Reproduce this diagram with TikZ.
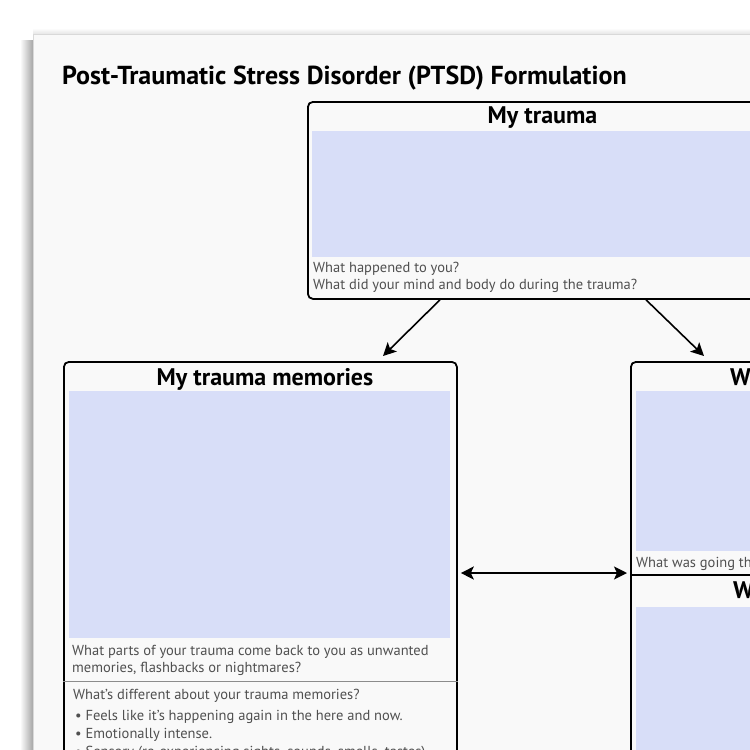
\documentclass[tikz,border=0pt]{standalone}
\usepackage{fontspec}
\setmainfont{PT Sans}
\usetikzlibrary{arrows.meta,calc}
\definecolor{pagebg}{HTML}{F9F9F9}
\definecolor{fillblue}{HTML}{D8DEF8}
\definecolor{hint}{HTML}{505050}
\begin{document}
\begin{tikzpicture}[x=1pt,y=-1pt,
  box/.style={draw=black, line width=1.8pt, rounded corners=5pt, inner sep=0pt, anchor=north west},
  bluearea/.style={fill=fillblue, draw=none, inner sep=0pt, anchor=north west},
  boxtitle/.style={font=\bfseries\fontsize{24}{27}\selectfont, inner sep=0pt},
  hinttext/.style={font=\fontsize{14.5}{17}\selectfont, text=hint, anchor=base west, inner sep=0pt},
  arr/.style={line width=1.6pt, -{Stealth[length=13pt,width=13pt,inset=3pt]}},
  dblarr/.style={line width=1.6pt, {Stealth[length=13pt,width=13pt,inset=3pt]}-{Stealth[length=13pt,width=13pt,inset=3pt]}},
]
\useasboundingbox (0,0) rectangle (750,750);
\clip (0,0) rectangle (750,750);
\fill[white] (0,0) rectangle (750,750);
% page shadow
\shade[left color=white, right color=black!35] (20,40) rectangle (33,760);
\shade[top color=white, bottom color=black!10] (33,28) rectangle (760,34);
% page
\fill[pagebg] (33,34) rectangle (760,760);
\draw[black!15, line width=0.6pt] (33,760) -- (33,34) -- (760,34);
% title
\node[anchor=base west, inner sep=0pt, font=\bfseries\fontsize{26}{30}\selectfont] (title) at (62,84) {Post-Traumatic Stress Disorder (PTSD) Formulation};
% blue areas
\node[bluearea, minimum width=461pt, minimum height=126pt] (b1blue) at (312,131) {};
\node[bluearea, minimum width=381pt, minimum height=247pt] (b2blue) at (69,391) {};
\node[bluearea, minimum width=400pt, minimum height=160pt] (b3blue) at (636,391) {};
\node[bluearea, minimum width=400pt, minimum height=200pt] (b4blue) at (636,607) {};
% boxes
\node[box, minimum width=471pt, minimum height=197pt] (b1) at (307,101) {};
\node[box, minimum width=393pt, minimum height=500pt] (b2) at (63,361) {};
\node[box, minimum width=420pt, minimum height=500pt] (b3) at (630,361) {};
\draw[line width=1.8pt] (b3.north west |- 0,575) -- ++(420,0);
\draw[black!45, line width=0.7pt] (b2.north west |- 0,681) -- (b2.north east |- 0,681);
% box titles
\node[boxtitle, anchor=base] (t1) at (542.5,123) {My trauma};
\node[boxtitle, anchor=base] (t2) at (265,385) {My trauma memories};
\node[boxtitle, anchor=base west] (t3) at (730,385) {What my trauma means};
\node[boxtitle, anchor=base west] (t4) at (733,598) {What I do to cope};
% hint texts
\node[hinttext] (h1a) at (313,272) {What happened to you?};
\node[hinttext] (h1b) at (313,289) {What did your mind and body do during the trauma?};
\node[hinttext] (h2a) at (72,655) {What parts of your trauma come back to you as unwanted};
\node[hinttext] (h2b) at (72,672) {memories, flashbacks or nightmares?};
\node[hinttext] (h2c) at (73,699) {What’s different about your trauma memories?};
\node[hinttext] (h2d) at (75,720) {\textbullet\ Feels like it’s happening again in the here and now.};
\node[hinttext] (h2e) at (75,738) {\textbullet\ Emotionally intense.};
\node[hinttext] (h2f) at (75,756) {\textbullet\ Sensory (re-experiencing sights, sounds, smells, tastes)};
\node[hinttext] (h3a) at (636,567) {What was going through your mind?};
% connectors
\draw[arr] ($(b1.south west)+(133,0)$) -- ($(b2.north west)+(320,-5)$);
\draw[arr] ($(b1.south west)+(339,0)$) -- ($(b3.north west)+(74,-5)$);
\draw[dblarr] ($(b2.north east)+(3,212)$) -- ($(b3.north west)+(-3,212)$);
\end{tikzpicture}
\end{document}
